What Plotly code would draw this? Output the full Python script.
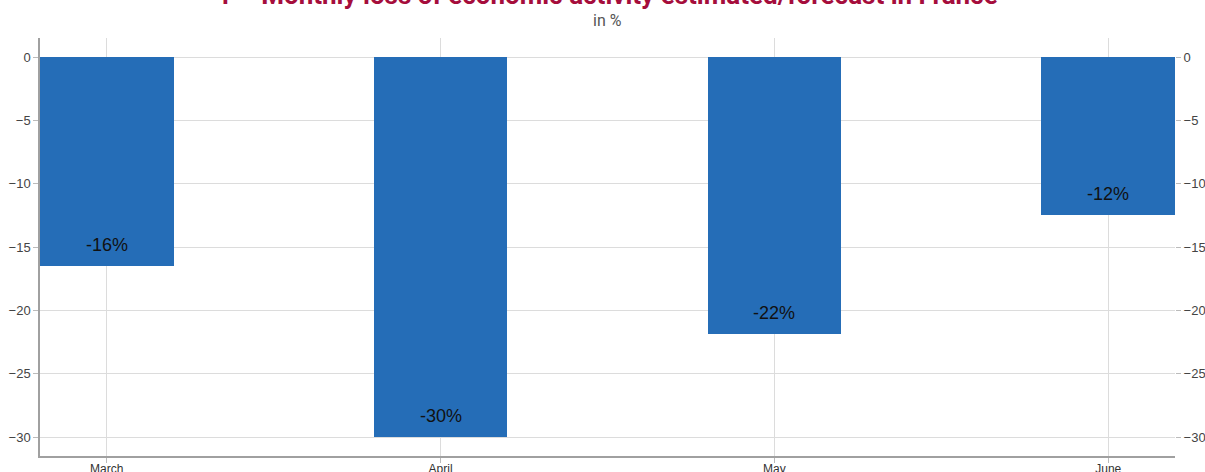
import plotly.graph_objects as go

months = ["March", "April", "May", "June"]
values = [-16.5, -30.0, -21.9, -12.5]
labels = ["-16%", "-30%", "-22%", "-12%"]
y_ticks = [0, -5, -10, -15, -20, -25, -30]

title_text = "1 – Monthly loss of economic activity estimated/forecast in France"
subtitle_text = "in %"

xpos = list(range(len(months)))

fig = go.Figure()
fig.add_trace(go.Bar(x=xpos, y=values, width=0.4, marker=dict(color="#256db7", line=dict(width=0)),
                     hoverinfo="skip", showlegend=False))
fig.add_trace(go.Scatter(x=xpos, y=values, yaxis="y2", mode="markers",
                         marker=dict(opacity=0), hoverinfo="skip", showlegend=False))

for xi, v, t in zip(xpos, values, labels):
    fig.add_annotation(x=xi, y=v, text=t, showarrow=False, yanchor="middle", yshift=21,
                       font=dict(family="Liberation Sans, Arial", size=18, color="#111"))

fig.add_annotation(x=0.5, y=1.103, xref="paper", yref="paper", text="<b>" + title_text + "</b>",
                   showarrow=False, yanchor="middle",
                   font=dict(family="Roboto", size=26, color="#a50d3c"))
fig.add_annotation(x=0.5, y=1.043, xref="paper", yref="paper", text=subtitle_text,
                   showarrow=False, yanchor="middle",
                   font=dict(family="Roboto", size=16, color="#555"))

tick_text = ["0" if t == 0 else "\u2212" + str(-t) for t in y_ticks]

fig.update_layout(
    width=1205, height=472,
    margin=dict(l=40, r=30, t=38, b=16, autoexpand=False),
    paper_bgcolor="white", plot_bgcolor="white",
    bargap=0,
    xaxis=dict(range=[-0.2, 3.2], tickvals=xpos, ticktext=months, showgrid=True, automargin=False,
               gridcolor="#dcdcdc", gridwidth=1, showline=True, linecolor="#a0a0a0", linewidth=1.5,
               ticks="outside", ticklen=5, tickcolor="#bbb", zeroline=False, ticklabelstandoff=-4,
               tickfont=dict(family="Liberation Sans, Arial", size=12, color="#333")),
    yaxis=dict(range=[-31.5, 1.5], tickvals=y_ticks, ticktext=tick_text, showgrid=True, automargin=False,
               gridcolor="#dcdcdc", gridwidth=1, showline=True, linecolor="#a0a0a0", linewidth=1.5,
               ticks="outside", ticklen=5, tickcolor="#bbb", zeroline=False,
               tickfont=dict(family="Liberation Sans, Arial", size=13, color="#444")),
    yaxis2=dict(range=[-31.5, 1.5], tickvals=y_ticks, ticktext=tick_text, overlaying="y", side="right",
                showgrid=False, showline=False, zeroline=False, ticks="outside", ticklen=5, tickcolor="#bbb",
                automargin=False,
                tickfont=dict(family="Liberation Sans, Arial", size=13, color="#444")),
)

fig.write_html("out.html", config={"displayModeBar": False},
               post_script="document.body.style.margin='0';document.body.style.overflow='hidden';")
